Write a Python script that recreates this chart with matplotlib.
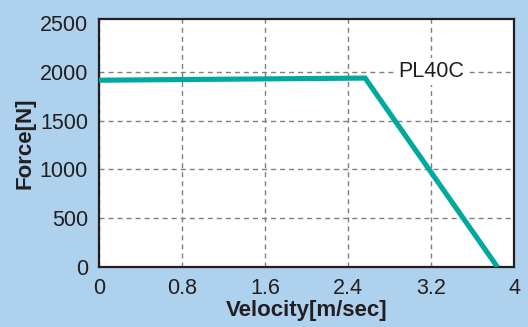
import matplotlib
matplotlib.use("Agg")
import matplotlib.pyplot as plt

velocity = [0.0, 2.565, 3.84]
force = [1913, 1935, 0]
label = "PL40C"
xticks = [0, 0.8, 1.6, 2.4, 3.2, 4]
xticklabels = ["0", "0.8", "1.6", "2.4", "3.2", "4"]
yticks = [0, 500, 1000, 1500, 2000, 2500]

plt.rcParams['font.family'] = ['Liberation Sans', 'DejaVu Sans']
bg = '#aed1ee'
teal = '#00a99d'
ink = '#231f20'

fig = plt.figure(figsize=(5.28, 3.27), dpi=100, facecolor=bg)
ax = fig.add_axes([0.1875, 0.1835, 0.7860, 0.7584])
ax.set_facecolor('white')
ax.plot(velocity, force, color=teal, lw=3.7, solid_capstyle='butt', solid_joinstyle='miter', zorder=3)
ax.set_xlim(0, 4)
ax.set_ylim(0, 2540)
ax.set_xticks(xticks)
ax.set_xticklabels(xticklabels)
ax.set_yticks(yticks)
ax.grid(True, color='#7f7f7f', linestyle=(0, (3.6, 2.9)), lw=1.0)
ax.get_ygridlines()[-1].set_visible(False)
ax.tick_params(length=0, labelsize=15.5, colors=ink, pad=8)
for s in ax.spines.values():
    s.set_linewidth(1.6)
    s.set_color(ink)
ax.text(3.2, 2000, label, ha='center', va='center', fontsize=15.5, color=ink,
        bbox=dict(facecolor='white', edgecolor='none', pad=2), zorder=4)
ax.set_xlabel('Velocity[m/sec]', fontsize=16, fontweight='bold', color=ink, labelpad=1)
ax.set_ylabel('Force[N]', fontsize=16, fontweight='bold', color=ink, labelpad=3)
fig.savefig('out.png', dpi=100, facecolor=bg)
